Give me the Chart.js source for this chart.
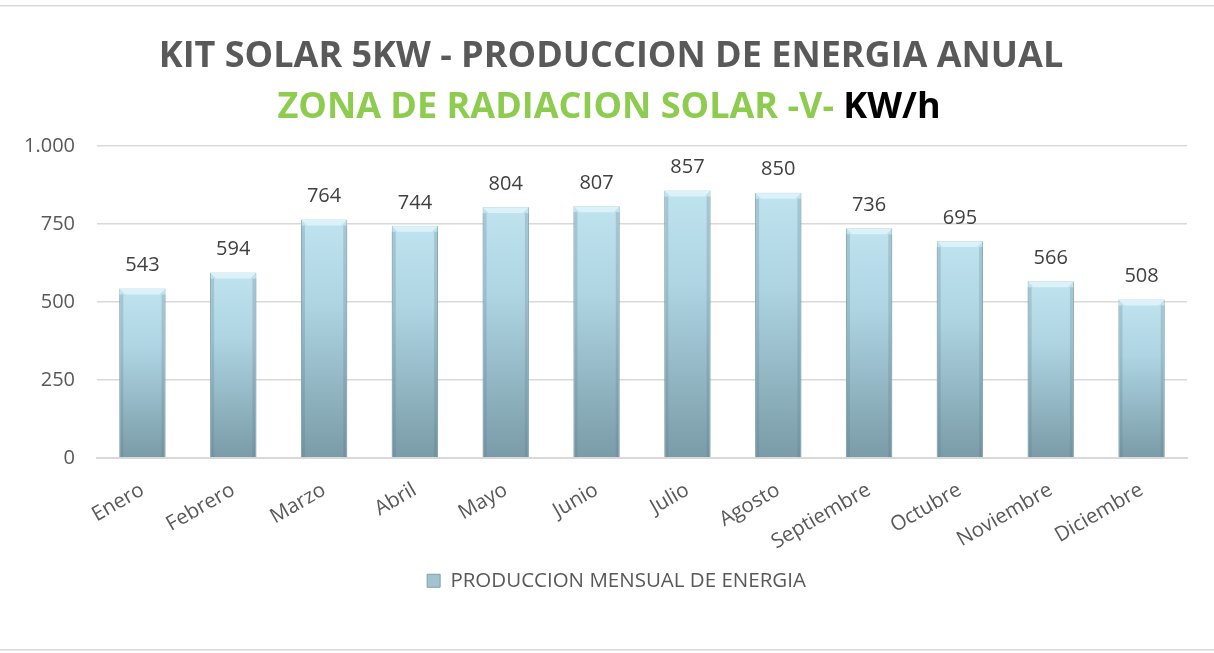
<!DOCTYPE html>
<html>
<head>
<meta charset="utf-8">
<script src="https://cdn.jsdelivr.net/npm/chart.js@4.4.1/dist/chart.umd.min.js"></script>
<style>
  html, body { margin: 0; padding: 0; background: #fff; }
  #wrap { width: 1214px; height: 653px; position: relative; }
</style>
</head>
<body>
<div id="wrap"><canvas id="c" width="1214" height="653"></canvas></div>
<script>
const categories = ['Enero','Febrero','Marzo','Abril','Mayo','Junio','Julio','Agosto','Septiembre','Octubre','Noviembre','Diciembre'];
const production = [543, 594, 764, 744, 804, 807, 857, 850, 736, 695, 566, 508];
const seriesName = 'PRODUCCION MENSUAL DE ENERGIA';
const titleLine1 = 'KIT SOLAR 5KW - PRODUCCION DE ENERGIA ANUAL';
const titleLine2a = 'ZONA DE RADIACION SOLAR -V- ';
const titleLine2b = 'KW/h';
const yTicks = [0, 250, 500, 750, 1000];

const FONT = "'Open Sans', 'Liberation Sans', sans-serif";

function barFill(ctx) {
  const chart = ctx.chart;
  const area = chart.chartArea;
  if (!area || ctx.type !== 'data') return '#a9cbd6';
  const y = chart.scales.y;
  const top = y.getPixelForValue(ctx.raw);
  const bottom = y.getPixelForValue(0);
  const g = chart.ctx.createLinearGradient(0, top, 0, bottom);
  g.addColorStop(0, '#bfe3ef');
  g.addColorStop(0.35, '#afd5e2');
  g.addColorStop(1, '#7a9ba8');
  return g;
}

const decor = {
  id: 'decor',
  afterLayout(chart) {
    const lg = chart.legend;
    if (lg) { lg.left += 22; lg.right += 22; }
  },
  beforeDraw(chart) {
    const c = chart.ctx;
    c.save();
    c.fillStyle = '#fff';
    c.fillRect(0, 0, chart.width, chart.height);
    c.fillStyle = '#d9d9d9';
    c.fillRect(0, 5, chart.width, 1.5);
    c.fillRect(0, 649, chart.width, 1.5);
    c.restore();
  },
  afterDatasetsDraw(chart) {
    const c = chart.ctx;
    const meta = chart.getDatasetMeta(0);
    c.save();
    meta.data.forEach((bar) => {
      const w = bar.width, x0 = bar.x - w / 2, x1 = bar.x + w / 2, t = bar.y, b = bar.base;
      c.fillStyle = 'rgba(230,247,252,0.75)';
      c.beginPath();
      c.moveTo(x0, t); c.lineTo(x1, t); c.lineTo(x1 - 6, t + 6); c.lineTo(x0 + 6, t + 6); c.closePath();
      c.fill();
      c.fillStyle = 'rgba(90,120,130,0.25)';
      c.fillRect(x0, t + 6, 4, b - t - 6);
      c.fillRect(x1 - 4, t + 6, 4, b - t - 6);
    });
    c.restore();
  },
  afterDraw(chart) {
    const c = chart.ctx;
    c.save();
    c.textBaseline = 'middle';
    c.font = "bold 36px " + FONT;
    c.fillStyle = '#595959';
    c.textAlign = 'center';
    c.fillText(titleLine1, 611, 57);
    const wa = c.measureText(titleLine2a).width;
    const wb = c.measureText(titleLine2b).width;
    const start = 609 - (wa + wb) / 2;
    c.textAlign = 'left';
    c.fillStyle = '#8dcc4e';
    c.fillText(titleLine2a, start, 108);
    c.fillStyle = '#000000';
    c.fillText(titleLine2b, start + wa, 108);
    const meta = chart.getDatasetMeta(0);
    c.font = "20px " + FONT;
    c.fillStyle = '#404040';
    c.textAlign = 'center';
    c.textBaseline = 'bottom';
    meta.data.forEach((bar, i) => {
      c.fillText(String(production[i]), bar.x, bar.y - 13);
    });
    c.restore();
  }
};

new Chart(document.getElementById('c'), {
  type: 'bar',
  data: {
    labels: categories,
    datasets: [{
      label: seriesName,
      data: production,
      backgroundColor: barFill,
      borderColor: '#8fb2be',
      borderWidth: 1,
      categoryPercentage: 1.0,
      barPercentage: 0.51
    }]
  },
  options: {
    responsive: false,
    animation: false,
    devicePixelRatio: 1,
    layout: { padding: { top: 146, left: 2, right: 27, bottom: 52 } },
    plugins: {
      title: { display: false },
      tooltip: { enabled: false },
      legend: {
        position: 'bottom',
        labels: {
          font: { family: FONT, size: 20.5 },
          color: '#595959',
          boxWidth: 13,
          boxHeight: 13,
          padding: 10,
          generateLabels(chart) {
            return [{
              text: seriesName,
              fillStyle: '#a3c4cf',
              strokeStyle: '#7d9eab',
              lineWidth: 1,
              fontColor: '#595959',
              datasetIndex: 0
            }];
          }
        }
      }
    },
    scales: {
      x: {
        afterFit(scale) { scale.height -= 14; },
        grid: { display: false, drawTicks: false },
        border: { color: '#d9d9d9', width: 2 },
        ticks: {
          font: { family: FONT, size: 20.5 },
          color: '#595959',
          minRotation: 30,
          maxRotation: 30,
          padding: 20
        }
      },
      y: {
        min: 0,
        max: 1000,
        afterBuildTicks(scale) { scale.ticks = yTicks.map(v => ({ value: v })); },
        grid: { color: '#d9d9d9', lineWidth: 1.5, drawTicks: false },
        border: { display: false },
        ticks: {
          font: { family: FONT, size: 20 },
          color: '#595959',
          padding: 22,
          callback: (v) => Number(v).toLocaleString('de-DE')
        }
      }
    }
  },
  plugins: [decor]
});
</script>
</body>
</html>
